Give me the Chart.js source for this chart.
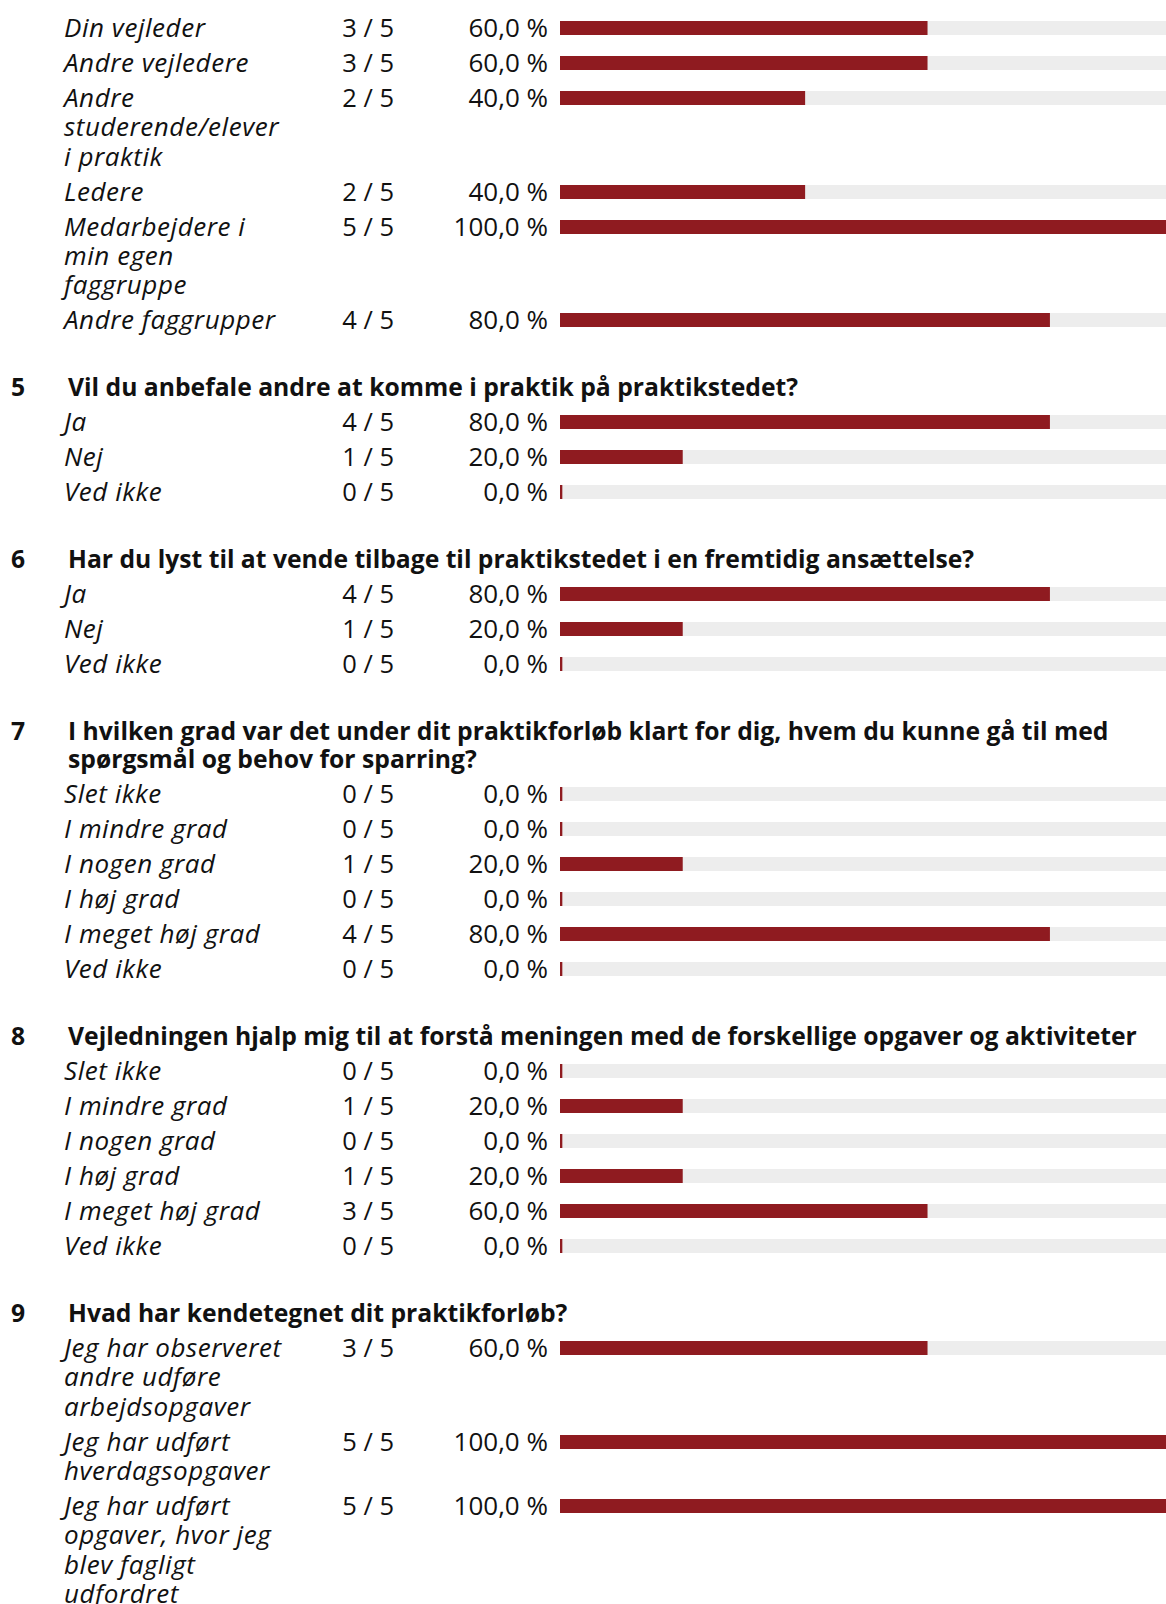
<!DOCTYPE html>
<html lang="da">
<head>
<meta charset="utf-8">
<script src="https://cdn.jsdelivr.net/npm/chart.js@4.4.1/dist/chart.umd.min.js"></script>
<style>
  html, body { margin: 0; padding: 0; background: #fff; overflow: hidden; }
  body { width: 1166px; height: 1604px; font-family: "Open Sans", Lato, sans-serif; color: #111; }
  #report { padding-top: 10px; }
  .q { margin-top: 33px; }
  .title { position: relative; padding: 3px 0; line-height: 28px; font-size: 24.7px; font-weight: 700; }
  .title .no { position: absolute; left: 11px; top: 3px; }
  .title .txt { margin-left: 68px; white-space: nowrap; }
  .row { position: relative; }
  .row .lbl { position: absolute; left: 64px; top: 3px; line-height: 29.3px; font-size: 26px; letter-spacing: 0.55px; font-style: italic; white-space: nowrap; }
  .row .cnt, .row .pct { position: absolute; top: 3px; line-height: 29.3px; font-size: 26px; text-align: right; white-space: nowrap; }
  .row .cnt { left: 302px; width: 92px; font-size: 25.5px; }
  .row .pct { left: 400px; width: 148px; }
  .row canvas { position: absolute; left: 560px; top: 11px; }
</style>
</head>
<body>
<div id="report"></div>
<script>
/* Survey report: one horizontal bar per answer, drawn with Chart.js.
 * Labels / counts / percentages are plain text next to each bar. */

const TOTAL = 5;
const BAR_RED = "#8f1b20";
const TRACK_GREY = "#ededed";
const ROW_H = 35;     // single-line answer row
const LINE_H = 29.3;  // each extra wrapped label line

// question 4 (title is above the visible area)
const q4Labels = [["Din vejleder"], ["Andre vejledere"], ["Andre", "studerende/elever", "i praktik"], ["Ledere"], ["Medarbejdere i", "min egen", "faggruppe"], ["Andre faggrupper"]];
const q4Counts = [3, 3, 2, 2, 5, 4];
const q4Pct = [60, 60, 40, 40, 100, 80];

const q5Title = ["Vil du anbefale andre at komme i praktik på praktikstedet?"];
const q5Labels = [["Ja"], ["Nej"], ["Ved ikke"]];
const q5Counts = [4, 1, 0];
const q5Pct = [80, 20, 0];

const q6Title = ["Har du lyst til at vende tilbage til praktikstedet i en fremtidig ansættelse?"];
const q6Labels = [["Ja"], ["Nej"], ["Ved ikke"]];
const q6Counts = [4, 1, 0];
const q6Pct = [80, 20, 0];

const q7Title = ["I hvilken grad var det under dit praktikforløb klart for dig, hvem du kunne gå til med", "spørgsmål og behov for sparring?"];
const q7Labels = [["Slet ikke"], ["I mindre grad"], ["I nogen grad"], ["I høj grad"], ["I meget høj grad"], ["Ved ikke"]];
const q7Counts = [0, 0, 1, 0, 4, 0];
const q7Pct = [0, 0, 20, 0, 80, 0];

const q8Title = ["Vejledningen hjalp mig til at forstå meningen med de forskellige opgaver og aktiviteter"];
const q8Labels = [["Slet ikke"], ["I mindre grad"], ["I nogen grad"], ["I høj grad"], ["I meget høj grad"], ["Ved ikke"]];
const q8Counts = [0, 1, 0, 1, 3, 0];
const q8Pct = [0, 20, 0, 20, 60, 0];

const q9Title = ["Hvad har kendetegnet dit praktikforløb?"];
const q9Labels = [["Jeg har observeret", "andre udføre", "arbejdsopgaver"], ["Jeg har udført", "hverdagsopgaver"], ["Jeg har udført", "opgaver, hvor jeg", "blev fagligt", "udfordret"]];
const q9Counts = [3, 5, 5];
const q9Pct = [60, 100, 100];

const questions = [
  { no: null, title: null, labels: q4Labels, counts: q4Counts, pct: q4Pct },
  { no: 5, title: q5Title, labels: q5Labels, counts: q5Counts, pct: q5Pct },
  { no: 6, title: q6Title, labels: q6Labels, counts: q6Counts, pct: q6Pct },
  { no: 7, title: q7Title, labels: q7Labels, counts: q7Counts, pct: q7Pct },
  { no: 8, title: q8Title, labels: q8Labels, counts: q8Counts, pct: q8Pct },
  { no: 9, title: q9Title, labels: q9Labels, counts: q9Counts, pct: q9Pct },
];

// grey track behind the bar = the whole 0..100 scale
const trackPlugin = {
  id: "track",
  beforeDatasetsDraw(chart) {
    const { ctx, chartArea: a } = chart;
    ctx.save();
    ctx.fillStyle = TRACK_GREY;
    ctx.fillRect(a.left + 1, a.top, a.right - a.left - 1, a.bottom - a.top);
    ctx.restore();
  },
};

function fmtPct(v) {
  return v.toFixed(1).replace(".", ",") + " %";
}

function renderBar(canvas, value) {
  new Chart(canvas, {
    type: "bar",
    data: {
      labels: [""],
      datasets: [{
        data: [value],
        backgroundColor: BAR_RED,
        barPercentage: 1,
        categoryPercentage: 1,
        minBarLength: 2,
      }],
    },
    options: {
      indexAxis: "y",
      responsive: false,
      animation: false,
      events: [],
      layout: { padding: 0 },
      plugins: { legend: { display: false }, tooltip: { enabled: false } },
      scales: {
        x: { display: false, min: 0, max: 100 },
        y: { display: false },
      },
    },
    plugins: [trackPlugin],
  });
}

function renderQuestion(q) {
  const report = document.getElementById("report");
  const block = document.createElement("div");
  if (q.no !== null) {
    block.className = "q";
    const t = document.createElement("div");
    t.className = "title";
    t.innerHTML = `<span class="no">${q.no}</span><div class="txt">${q.title.join("<br>")}</div>`;
    block.appendChild(t);
  }
  q.labels.forEach((lines, i) => {
    const row = document.createElement("div");
    row.className = "row";
    row.style.height = ROW_H + LINE_H * (lines.length - 1) + "px";
    row.innerHTML =
      `<div class="lbl">${lines.join("<br>")}</div>` +
      `<div class="cnt">${q.counts[i]} / ${TOTAL}</div>` +
      `<div class="pct">${fmtPct(q.pct[i])}</div>`;
    const canvas = document.createElement("canvas");
    canvas.width = 612;
    canvas.height = 14;
    canvas.style.width = "612px";
    canvas.style.height = "14px";
    row.appendChild(canvas);
    block.appendChild(row);
    renderBar(canvas, q.pct[i]);
  });
  report.appendChild(block);
}

questions.forEach(renderQuestion);
</script>
</body>
</html>
